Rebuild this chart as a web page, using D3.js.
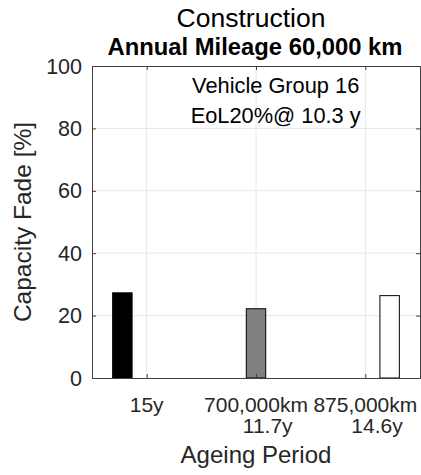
<!DOCTYPE html>
<html>
<head>
<meta charset="utf-8">
<script src="https://cdn.jsdelivr.net/npm/d3@7"></script>
<style>
  body { margin: 0; background: #fff; }
  svg { font-family: "Liberation Sans", Arial, Helvetica, sans-serif; }
</style>
</head>
<body>
<div id="chart"></div>
<script>
// chart values
var categories = [1, 2, 3];
var tickLabels = [["15y"], ["700,000km", "    11.7y"], ["875,000km", "    14.6y"]];
var seriesNames = ["black", "gray", "white"];
var seriesFill = ["#000000", "#808080", "#ffffff"];
var seriesValues = [
  [27.3, 0, 0],
  [0, 22.2, 0],
  [0, 0, 26.4]
];
var yTicks = [0, 20, 40, 60, 80, 100];
var titleLines = ["Construction", "Annual Mileage 60,000 km"];
var noteLines = ["Vehicle Group 16", "EoL20%@ 10.3 y"];

var W = 421, H = 475;
var m = {left: 92, right: 1, top: 66, bottom: 97};

var svg = d3.select("#chart").append("svg")
  .attr("width", W).attr("height", H);

var x = d3.scaleLinear().domain([0.5, 3.5]).range([m.left, W - m.right]);
var y = d3.scaleLinear().domain([0, 100]).range([H - m.bottom, m.top]);

// grouped bar offsets (matlab style)
var inner = d3.scaleBand().domain(seriesNames).range([-1/3, 1/3])
  .paddingInner(0.2).paddingOuter(0.1);

var axisCol = "#262626";

// grid
var g = svg.append("g");
g.selectAll(".hg").data(yTicks.slice(1, -1)).enter().append("line")
  .attr("x1", x(0.5)).attr("x2", x(3.5))
  .attr("y1", d => y(d)).attr("y2", d => y(d))
  .attr("stroke", "#e6e6e6").attr("stroke-width", 1);
g.selectAll(".vg").data(categories).enter().append("line")
  .attr("x1", d => x(d)).attr("x2", d => x(d))
  .attr("y1", y(0)).attr("y2", y(100))
  .attr("stroke", "#e6e6e6").attr("stroke-width", 1);

// bars
seriesValues.forEach(function(vals, j) {
  g.selectAll(".bar" + j).data(vals).enter().append("rect")
    .attr("x", (d, i) => x(categories[i] + inner(seriesNames[j])))
    .attr("width", x(inner.bandwidth()) - x(0))
    .attr("y", d => y(d))
    .attr("height", d => y(0) - y(d))
    .attr("fill", seriesFill[j])
    .attr("stroke", "#000").attr("stroke-width", 1);
});

// box + ticks
var yAxL = d3.axisLeft(y).tickValues(yTicks).tickSize(-4).tickFormat("");
var yAxR = d3.axisRight(y).tickValues(yTicks).tickSize(-4).tickFormat("");
var xAxB = d3.axisBottom(x).tickValues(categories).tickSize(-4).tickFormat("");
var xAxT = d3.axisTop(x).tickValues(categories).tickSize(-4).tickFormat("");
[[yAxL, "translate(" + x(0.5) + ",0)"], [yAxR, "translate(" + x(3.5) + ",0)"],
 [xAxB, "translate(0," + y(0) + ")"], [xAxT, "translate(0," + y(100) + ")"]].forEach(function(a) {
  var ax = svg.append("g").attr("transform", a[1]).call(a[0]);
  ax.select(".domain").attr("stroke", "#404040");
  ax.selectAll(".tick line").attr("stroke", "#404040");
});

// y tick labels
svg.selectAll(".yl").data(yTicks).enter().append("text")
  .attr("x", x(0.5) - 10).attr("y", d => y(d)).attr("dy", "0.35em")
  .attr("text-anchor", "end").attr("font-size", 21.5).attr("fill", axisCol)
  .text(d => d);

// x tick labels
svg.selectAll(".xl").data(categories).enter().append("text")
  .attr("text-anchor", "middle").attr("font-size", 21).attr("fill", axisCol)
  .style("white-space", "pre")
  .each(function(d, i) {
    var t = d3.select(this);
    tickLabels[i].forEach(function(s, k) {
      t.append("tspan").attr("x", x(d)).attr("y", y(0) + 34 + k * 21).text(s);
    });
  });

// axis labels
svg.append("text").attr("x", (x(0.5) + x(3.5)) / 2).attr("y", 463)
  .attr("text-anchor", "middle").attr("font-size", 24).attr("fill", axisCol)
  .text("Ageing Period");
svg.append("text")
  .attr("transform", "translate(31," + (y(0) + y(100)) / 2 + ") rotate(-90)")
  .attr("text-anchor", "middle").attr("font-size", 24.5).attr("fill", axisCol)
  .text("Capacity Fade [%]");

// title
svg.append("text").attr("x", 251).attr("y", 27)
  .attr("text-anchor", "middle").attr("font-size", 26.5).attr("fill", "#000")
  .text(titleLines[0]);
svg.append("text").attr("x", 255).attr("y", 55)
  .attr("text-anchor", "middle").attr("font-size", 23.8).attr("font-weight", "bold").attr("fill", "#000")
  .text(titleLines[1]);

// note inside the axes
noteLines.forEach(function(s, k) {
  svg.append("text").attr("x", x(2.18)).attr("y", y(91.3) + k * 30)
    .attr("text-anchor", "middle").attr("font-size", 21.8).attr("fill", "#000")
    .text(s);
});
</script>
</body>
</html>
